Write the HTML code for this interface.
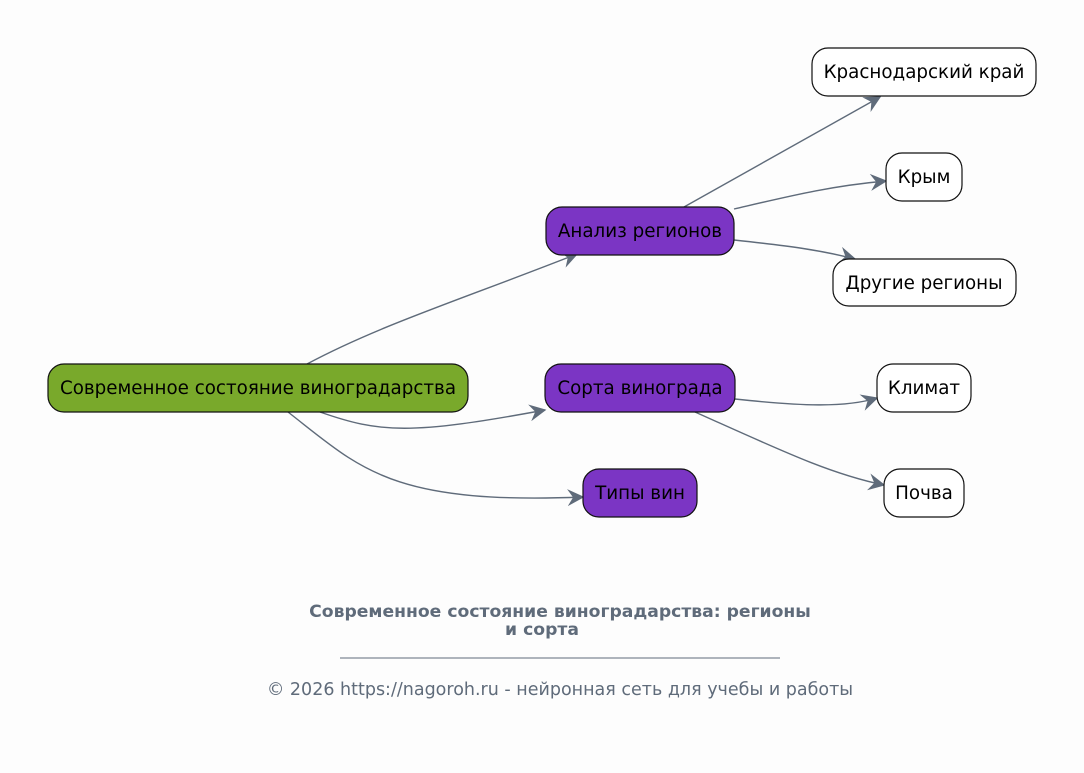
<!DOCTYPE html>
<html><head><meta charset="utf-8"><style>
html,body{margin:0;padding:0;background:#fdfdfd;}
svg{display:block;font-family:"DejaVu Sans","Liberation Sans",sans-serif;}
</style></head><body>
<svg width="1084" height="773" viewBox="0 0 1084 773" xmlns="http://www.w3.org/2000/svg">
<defs>
<marker id="a" viewBox="0 0 12 12" refX="11" refY="6" markerWidth="17" markerHeight="17" markerUnits="userSpaceOnUse" orient="auto">
<path d="M0,0 L12,6 L0,12 L4,6 Z" fill="#5f6b7a"/>
</marker>
</defs>
<rect width="1084" height="773" fill="#fdfdfd"/>
<g fill="none" stroke="#5f6b7a" stroke-width="1.4" marker-end="url(#a)">
<path d="M307,364 C380,325 460,300 577,254"/>
<path d="M320,412 C380,433 410,435 545,410"/>
<path d="M288,412 C360,468 390,505 583,497"/>
<path d="M684,207 L880,97"/>
<path d="M734,209 C790,196 830,186 886,181"/>
<path d="M734,240 C790,246 820,250 855,259"/>
<path d="M735,399 C800,406 845,408 877,398"/>
<path d="M695,412 C780,450 830,474 884,485"/>
</g>
<g stroke="#111" stroke-width="1.2">
<rect x="48" y="364" width="420" height="48" rx="16" fill="#79a92b"/>
<rect x="546" y="207" width="188" height="48" rx="16" fill="#7b35c4"/>
<rect x="545" y="364" width="190" height="48" rx="16" fill="#7b35c4"/>
<rect x="583" y="469" width="114" height="48" rx="16" fill="#7b35c4"/>
<rect x="812" y="48" width="224" height="48" rx="16" fill="#fff"/>
<rect x="886" y="153" width="76" height="48" rx="16" fill="#fff"/>
<rect x="833" y="259" width="183" height="47" rx="16" fill="#fff"/>
<rect x="877" y="364" width="94" height="48" rx="16" fill="#fff"/>
<rect x="884" y="469" width="80" height="48" rx="16" fill="#fff"/>
</g>
<g font-size="18.3" fill="#000" text-anchor="middle">
<text x="258" y="394">Современное состояние виноградарства</text>
<text x="640" y="237">Анализ регионов</text>
<text x="640" y="394">Сорта винограда</text>
<text x="640" y="499">Типы вин</text>
<text x="924" y="78">Краснодарский край</text>
<text x="924" y="183">Крым</text>
<text x="924" y="289">Другие регионы</text>
<text x="924" y="394">Климат</text>
<text x="924" y="499">Почва</text>
</g>
<g fill="#5f6b7a" text-anchor="middle">
<text x="560" y="617" font-size="17.2" font-weight="bold">Современное состояние виноградарства: регионы</text>
<text x="542" y="635" font-size="17.2" font-weight="bold">и сорта</text>
<line x1="340" y1="658" x2="780" y2="658" stroke="#5f6b7a" stroke-width="1"/>
<text x="560" y="695" font-size="17.5">© 2026 https://nagoroh.ru - нейронная сеть для учебы и работы</text>
</g>
</svg>
</body></html>
